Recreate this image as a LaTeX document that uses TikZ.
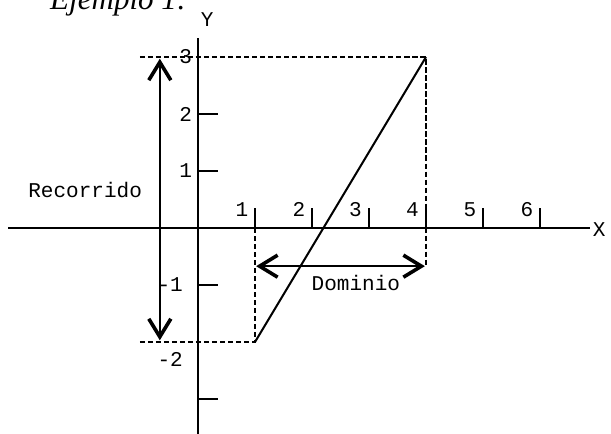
\documentclass[tikz,border=0pt]{standalone}
\usepackage{fontspec}
\setmainfont{Liberation Serif}
\setmonofont{Liberation Mono}
\usepackage{tikz}
\usetikzlibrary{arrows.meta}

\begin{document}
\begin{tikzpicture}[
  axis/.style={line width=1pt},
  lbl/.style={font=\fontsize{10.5}{12}\selectfont\ttfamily,inner sep=0pt},
  guide/.style={dash pattern=on 2.6pt off 1.4pt,line width=0.8pt},
  barb/.style={{Straight Barb[length=9pt,width=11pt,line width'=1.8pt]}-{Straight Barb[length=9pt,width=11pt,line width'=1.8pt]},line width=0.8pt}
]
\useasboundingbox (-3.474,-3.614) rectangle (7.246,4.0);
\node[anchor=base west,inner sep=0pt,font=\fontsize{15.5}{18}\selectfont\itshape] (title) at (-2.6,3.84) {Ejemplo 1:};
% axes
\coordinate (xl) at (-3.33,0); \coordinate (xr) at (6.88,0);
\coordinate (yb) at (0,-3.7); \coordinate (yt) at (0,3.33);
\draw[axis] (xl) -- (xr); \draw[axis] (yb) -- (yt);
\node[lbl,anchor=west] (xlab) at (6.92,-0.03) {X};
\node[lbl] (ylab) at (0.16,3.65) {Y};
% ticks
\draw[axis] (1,0) -- ++(0,0.35); \draw[axis] (2,0) -- ++(0,0.35); \draw[axis] (3,0) -- ++(0,0.35);
\draw[axis] (4,0) -- ++(0,0.35); \draw[axis] (5,0) -- ++(0,0.35); \draw[axis] (6,0) -- ++(0,0.35);
\draw[axis] (0,2) -- ++(0.35,0); \draw[axis] (0,1) -- ++(0.35,0);
\draw[axis] (0,-1) -- ++(0.35,0); \draw[axis] (0,-3) -- ++(0.35,0);
\node[lbl] (x1) at (0.77,0.33) {1}; \node[lbl] (x2) at (1.77,0.33) {2};
\node[lbl] (x3) at (2.76,0.33) {3}; \node[lbl] (x4) at (3.76,0.33) {4};
\node[lbl] (x5) at (4.77,0.33) {5}; \node[lbl] (x6) at (5.77,0.33) {6};
\node[lbl,anchor=east] (y3) at (-0.1,3) {3};
\node[lbl,anchor=east] (y2) at (-0.1,2) {2};
\node[lbl,anchor=east] (y1) at (-0.1,1) {1};
\node[lbl,anchor=east] (ym1) at (-0.26,-1) {-1};
\node[lbl,anchor=east] (ym2) at (-0.26,-2.3) {-2};
% graph
\coordinate (A) at (1,-2); \coordinate (B) at (4,3);
\draw[guide] (-1.02,3) -- (B) -- (4,-0.68);
\draw[guide] (-1.02,-2) -- (A) -- (1,0);
\draw[line width=1pt] (A) -- (B);
% domain and range
\coordinate (r1) at (-0.67,2.97); \coordinate (r2) at (-0.67,-1.97);
\coordinate (d1) at (1.02,-0.67); \coordinate (d2) at (3.98,-0.67);
\draw[barb] (r1) -- (r2);
\draw[barb] (d1) -- (d2);
\node[lbl] (rec) at (-1.98,0.67) {Recorrido};
\node[lbl] (dom) at (2.77,-0.96) {Dominio};
\end{tikzpicture}
\end{document}
